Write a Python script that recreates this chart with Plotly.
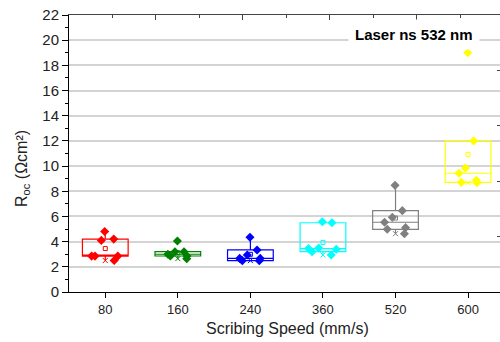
import plotly.graph_objects as go
import numpy as np

speeds = ["80", "160", "240", "360", "520", "600"]
r80 = [4.80, 4.10, 4.20, 2.85, 2.85, 2.50, 2.85]
r160 = [4.05, 3.20, 3.20, 3.00, 2.86, 2.86, 2.65]
r240 = [4.35, 3.34, 2.94, 2.67, 2.67, 2.49, 2.49]
r360 = [5.50, 5.58, 3.45, 3.40, 3.50, 3.20, 2.94]
r520 = [8.47, 6.46, 5.93, 5.54, 5.11, 4.98, 4.63]
r600 = [19.0, 12.0, 9.85, 9.43, 8.87, 8.71, 8.68]
groups = [r80, r160, r240, r360, r520, r600]
colors = ["#FF0000", "#008000", "#0000FF", "#00FFFF", "#808080", "#FFFF00"]
y_ticks = list(range(0, 23, 2))

FONT = "Arial, Liberation Sans, sans-serif"

fig = go.Figure()
for cat, vals, col in zip(speeds, groups, colors):
    fig.add_trace(go.Box(
        x=[cat] * len(vals), y=vals, name=cat,
        boxpoints="all", jitter=0.75, pointpos=0,
        quartilemethod="exclusive",
        width=0.63, whiskerwidth=0,
        line=dict(color=col, width=1.2),
        fillcolor="rgba(0,0,0,0)",
        marker=dict(symbol="diamond", size=7, color=col, line=dict(width=0)),
        showlegend=False, hoverinfo="skip",
    ))

# mean (open square) and minimum (x) markers
fig.add_trace(go.Scatter(
    x=speeds, y=[float(np.mean(g)) for g in groups], mode="markers",
    marker=dict(symbol="square-open", size=4, color=colors, line=dict(width=1, color=colors)),
    showlegend=False, hoverinfo="skip"))
fig.add_trace(go.Scatter(
    x=speeds, y=[min(g) for g in groups], mode="markers",
    marker=dict(symbol="x-thin-open", size=5, color=colors, line=dict(width=1, color=colors)),
    showlegend=False, hoverinfo="skip"))

# empty traces so the secondary (top / right) frame axes are drawn
fig.add_trace(go.Scatter(x=[], y=[], xaxis="x2", yaxis="y", showlegend=False, hoverinfo="skip"))
fig.add_trace(go.Scatter(x=[], y=[], xaxis="x", yaxis="y2", showlegend=False, hoverinfo="skip"))

fig.update_layout(
    width=500, height=342,
    margin=dict(l=69, r=0, t=15, b=50),
    paper_bgcolor="white", plot_bgcolor="white",
    font=dict(family=FONT, color="#222"),
    boxmode="overlay",
    xaxis=dict(
        type="category", categoryorder="array", categoryarray=speeds,
        range=[-0.5, 5.44],
        showline=True, linecolor="black", linewidth=1,
        ticks="outside", ticklen=5, tickcolor="black",
        tickfont=dict(size=13, family=FONT, color="#222"),
        showgrid=False, zeroline=False,
    ),
    yaxis=dict(
        range=[0, 22], tickvals=y_ticks,
        showline=True, linecolor="black", linewidth=1,
        ticks="outside", ticklen=6, tickcolor="black",
        minor=dict(dtick=1, ticks="outside", ticklen=3, tickcolor="black", showgrid=False),
        showgrid=True, gridcolor="#d4d4d4", gridwidth=1.5,
        tickfont=dict(size=15, family=FONT, color="#222"),
        zeroline=False,
    ),
    xaxis2=dict(
        overlaying="x", side="top", anchor="y",
        range=[0, 99.1], tick0=0, dtick=20,
        showline=True, linecolor="#444", linewidth=1,
        ticks="inside", ticklen=5, tickcolor="#444",
        minor=dict(dtick=10, ticks="inside", ticklen=3, tickcolor="#444"),
        showticklabels=False, showgrid=False, zeroline=False,
    ),
    yaxis2=dict(
        overlaying="y", side="right", anchor="x",
        range=[0, 100], tick0=0, dtick=20,
        showline=False,
        ticks="inside", ticklen=3, tickcolor="#444",
        showticklabels=False, showgrid=False, zeroline=False,
    ),
    annotations=[
        dict(text="<b>Laser ns 532 nm</b>", xref="paper", yref="paper",
             x=0.80, y=0.931, xanchor="center", yanchor="middle", showarrow=False,
             font=dict(size=15, family=FONT, color="black"),
             bgcolor="white", borderpad=6),
        dict(text="Scribing Speed (mm/s)", xref="paper", yref="paper",
             x=0.508, y=-0.13, xanchor="center", yanchor="middle", showarrow=False,
             font=dict(size=16, family=FONT, color="#222")),
        dict(text="R<sub>oc</sub> (Ωcm²)", xref="paper", yref="paper",
             x=-0.109, y=0.444, xanchor="center", yanchor="middle", showarrow=False,
             textangle=-90,
             font=dict(size=16, family=FONT, color="#222")),
    ],
)

fig.write_html("out.html")
